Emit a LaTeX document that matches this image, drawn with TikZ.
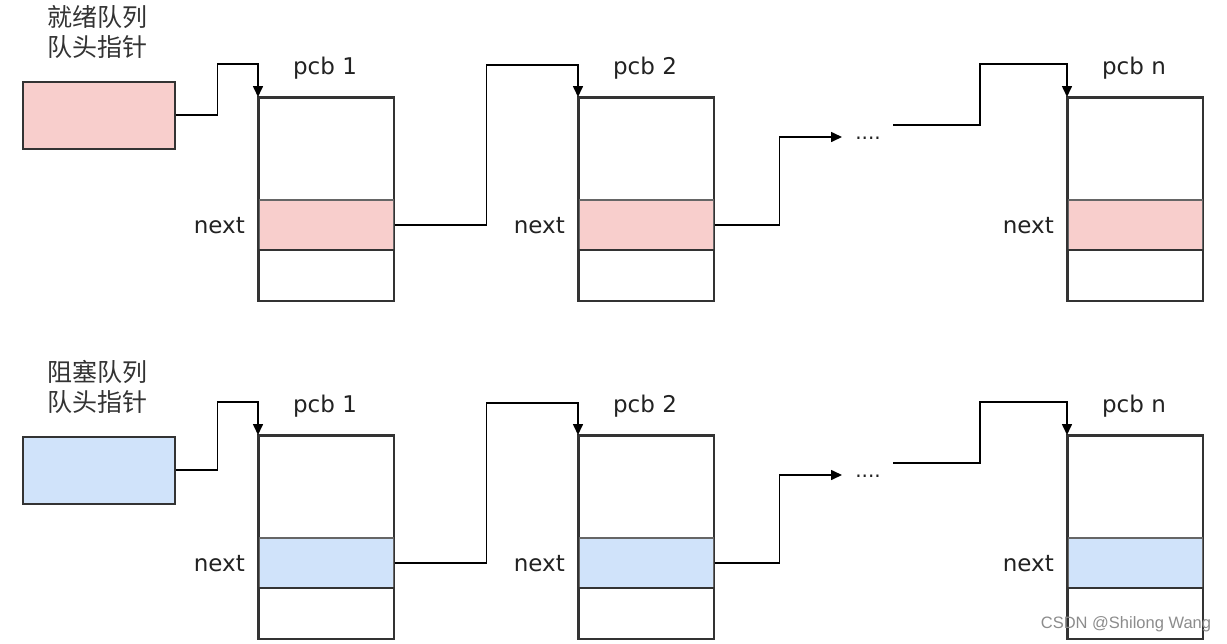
\documentclass[tikz,border=0pt]{standalone}
\usepackage{fontspec}
\setmainfont{DejaVu Sans}
\newfontfamily\cjk{Noto Sans CJK SC}
\newfontfamily\wmfont{Liberation Sans}
\usetikzlibrary{arrows.meta,calc}
\definecolor{pinkfill}{HTML}{F8CECC}
\definecolor{bluefill}{HTML}{D0E3FA}
\definecolor{edge}{HTML}{333333}
\definecolor{inner}{HTML}{666666}
\definecolor{txt}{HTML}{222222}
\begin{document}
\begin{tikzpicture}[x=1pt,y=-1pt,
  cell/.style={draw=edge,line width=1.5pt,fill=white,minimum width=135pt,inner sep=0pt,anchor=north west},
  headbox/.style={draw=edge,line width=1.5pt,minimum width=152pt,minimum height=67pt,inner sep=0pt,anchor=north west},
  lbl/.style={font=\fontsize{23}{26}\selectfont,text=txt,inner sep=0pt},
  cjklbl/.style={font=\cjk\fontsize{25}{30}\selectfont,text=edge,align=center,inner sep=0pt},
  link/.style={draw=black,line width=1.6pt,-{Triangle[length=11pt,width=10pt]}},
  dotlbl/.style={font=\fontsize{20}{22}\selectfont,text=txt,inner sep=0pt,anchor=base}
]
\useasboundingbox (0,0) rectangle (1227,643);
\fill[white] (0,0) rectangle (1227,643);

% ---------------- rows ----------------
\foreach \r/\dy/\hdy/\col/\title in {t/0/0/pinkfill/就绪队列, b/338/355/bluefill/阻塞队列}{
  % head label and box
  \node[cjklbl] (\r lab) at (97,{32+\hdy}) {\title\\队头指针};
  \node[headbox,fill=\col] (\r h) at (22,{81+\hdy}) {};
  % pcb boxes
  \foreach \i/\x/\nm in {1/258/1, 2/578/2, n/1067/n}{
    \node[cell,minimum height=102pt] (\r\i a) at (\x,{97+\dy}) {};
    \node[cell,minimum height=50pt,fill=\col,draw=inner] (\r\i n) at (\x,{199+\dy}) {};
    \node[cell,minimum height=51pt] (\r\i b) at (\x,{249+\dy}) {};
    \draw[edge,line width=1.5pt] (\r\i a.north west) rectangle (\r\i b.south east);
    \node[lbl] (\r\i t) at ({\x+67},{68+\dy}) {pcb \nm};
    \node[lbl,anchor=east] (\r\i x) at ({\x-13},{226+\dy}) {next};
  }
  % dots
  \node[dotlbl] (\r d) at (868,{139+\dy}) {....};
  \coordinate (\r din) at (842,{137+\dy});
  \coordinate (\r dout) at (893,{125+\dy});
  % connectors
  \draw[link] (\r h.east) -| ++(42,{-51-(\hdy-\dy)}) -| (\r1a.north west);
  \draw[link] (\r1n.east) -| ++(92,-160) -| (\r2a.north west);
  \draw[link] (\r2n.east) -- ++(65,0) |- (\r din);
  \draw[link] (\r dout) -| ++(87,-61) -| (\r na.north west);
}

% watermark
\node[font=\wmfont\fontsize{16.5}{18}\selectfont,text=black!45,inner sep=0pt] (wm) at (1126,624) {CSDN @Shilong Wang};
\end{tikzpicture}
\end{document}
